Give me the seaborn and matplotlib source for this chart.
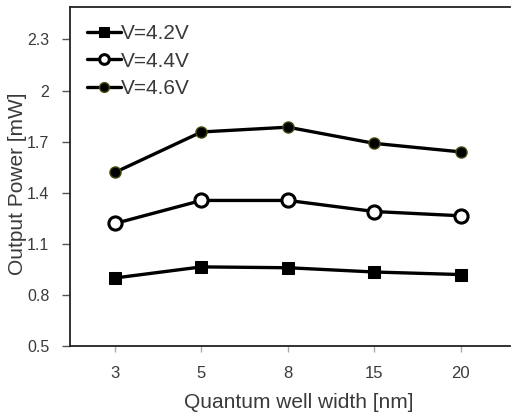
import numpy as np
import pandas as pd
import matplotlib
matplotlib.use("Agg")
import matplotlib.pyplot as plt
import seaborn as sns

# dados
larguras = ["3", "5", "8", "15", "20"]
p_42 = [0.90, 0.965, 0.96, 0.935, 0.92]
p_44 = [1.22, 1.355, 1.355, 1.29, 1.265]
p_46 = [1.52, 1.757, 1.785, 1.69, 1.64]
y_ticks = [0.5, 0.8, 1.1, 1.4, 1.7, 2.0, 2.3]
y_labels = ["0.5", "0.8", "1.1", "1.4", "1.7", "2", "2.3"]

sns.set_theme(style="white")
plt.rcParams["font.family"] = ["Liberation Sans", "DejaVu Sans"]
cor_txt = "#3a3a3a"

fig = plt.figure(figsize=(5.12, 4.16), dpi=100)
ax = fig.add_axes([0.137, 0.168, 0.859, 0.815])

df = pd.DataFrame({"largura": larguras, "v42": p_42, "v44": p_44, "v46": p_46})

sns.lineplot(data=df, x="largura", y="v42", ax=ax, color="black", lw=2.4,
             marker="s", markersize=9, markerfacecolor="black",
             markeredgecolor="black", label="V=4.2V", sort=False)
sns.lineplot(data=df, x="largura", y="v44", ax=ax, color="black", lw=2.4,
             marker="o", markersize=9.5, markerfacecolor="white",
             markeredgecolor="black", markeredgewidth=2.2, label="V=4.4V", sort=False)
sns.lineplot(data=df, x="largura", y="v46", ax=ax, color="black", lw=2.4,
             marker="o", markersize=8, markerfacecolor="black",
             markeredgecolor="#4a4a10", markeredgewidth=1.0, label="V=4.6V", sort=False)

ax.set_xlim(-0.52, 4.57)
ax.set_ylim(0.5, 2.49)
ax.set_yticks(y_ticks)
ax.set_yticklabels(y_labels)

for s in ["left", "top", "bottom"]:
    ax.spines[s].set_color("#222222")
    ax.spines[s].set_linewidth(1.3)
ax.spines["right"].set_visible(False)

ax.tick_params(axis="y", direction="out", length=6, width=1, color="#555555",
               labelsize=11.5, labelcolor=cor_txt, pad=9, left=True)
ax.tick_params(axis="x", direction="out", length=4, width=1, color="#aaaaaa",
               labelsize=12, labelcolor=cor_txt, pad=10.5, bottom=True)

ax.set_xlabel("Quantum well width [nm]", fontsize=15, color=cor_txt)
ax.set_ylabel("Output Power [mW]", fontsize=15, color=cor_txt)
ax.xaxis.set_label_coords(0.52, -0.139)
ax.yaxis.set_label_coords(-0.098, 0.478)

leg = ax.legend(loc="upper left", frameon=False, fontsize=15, handlelength=1.6,
                handletextpad=0.0, labelspacing=0.42, borderaxespad=0.0,
                bbox_to_anchor=(0.02, 0.975))
for t in leg.get_texts():
    t.set_color(cor_txt)
for h in leg.legend_handles:
    h.set_markersize(7)

fig.savefig("out.png", dpi=100)
